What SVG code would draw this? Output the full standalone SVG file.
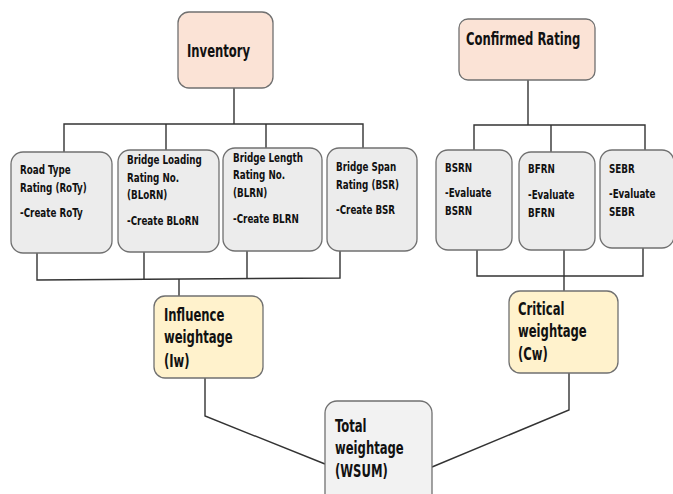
<svg xmlns="http://www.w3.org/2000/svg" width="673" height="494" viewBox="0 0 673 494">
<style>
.box{stroke:#707070;stroke-width:1.3}
.top{fill:#fbe3d6}
.mid{fill:#ececec}
.yel{fill:#fff2cc}
.tot{fill:#f2f2f2}
.t{font-family:'DejaVu Sans Condensed','DejaVu Sans',sans-serif;font-weight:bold;fill:#111}
.big{font-size:17px}
.sm{font-size:12.5px}
.c{fill:none;stroke:#333;stroke-width:1.4}
</style>
<rect width="673" height="494" fill="#fff"/>
<g id="connectors">
<polyline class="c" points="234,88 234,124"/>
<polyline class="c" points="64,152 64,124 363,124 363,148"/>
<polyline class="c" points="166,124 166,150"/>
<polyline class="c" points="266,124 266,148"/>
<polyline class="c" points="528,80 528,125"/>
<polyline class="c" points="474,153 474,125 645,125 645,150"/>
<polyline class="c" points="551,125 551,152"/>
<polyline class="c" points="37,253 37,280 340,278 340,251"/>
<polyline class="c" points="144,252 144,280"/>
<polyline class="c" points="247,251 247,279"/>
<polyline class="c" points="179,279 179,296"/>
<polyline class="c" points="477,250 477,276 643,276 643,248"/>
<polyline class="c" points="564,250 564,291"/>
<polyline class="c" points="205,378 205,416 325,464"/>
<polyline class="c" points="569,373 569,410 432,467"/>
</g>
<g id="inventory">
<rect class="box top" x="178" y="12" width="95" height="76" rx="11"/>
<text class="t big" transform="translate(187,57) scale(0.76,1)">Inventory</text>
</g>
<g id="confirmed">
<rect class="box top" x="459" y="19" width="136" height="61" rx="9"/>
<text class="t big" transform="translate(466,45) scale(0.76,1)">Confirmed Rating</text>
</g>
<g id="roty">
<rect class="box mid" x="11" y="152" width="101" height="101" rx="12"/>
<text class="t sm" transform="translate(20,174) scale(0.78,1)">Road Type</text>
<text class="t sm" transform="translate(20,192) scale(0.78,1)">Rating (RoTy)</text>
<text class="t sm" transform="translate(20,217) scale(0.78,1)">-Create RoTy</text>
</g>
<g id="blorn">
<rect class="box mid" x="118" y="150" width="101" height="102" rx="12"/>
<text class="t sm" transform="translate(127,164) scale(0.78,1)">Bridge Loading</text>
<text class="t sm" transform="translate(127,182) scale(0.78,1)">Rating No.</text>
<text class="t sm" transform="translate(127,199) scale(0.78,1)">(BLoRN)</text>
<text class="t sm" transform="translate(127,225) scale(0.78,1)">-Create BLoRN</text>
</g>
<g id="blrn">
<rect class="box mid" x="223" y="148" width="99" height="103" rx="12"/>
<text class="t sm" transform="translate(233,162) scale(0.78,1)">Bridge Length</text>
<text class="t sm" transform="translate(233,179) scale(0.78,1)">Rating No.</text>
<text class="t sm" transform="translate(233,197) scale(0.78,1)">(BLRN)</text>
<text class="t sm" transform="translate(233,223) scale(0.78,1)">-Create BLRN</text>
</g>
<g id="bsr">
<rect class="box mid" x="327" y="148" width="90" height="103" rx="12"/>
<text class="t sm" transform="translate(336,171) scale(0.78,1)">Bridge Span</text>
<text class="t sm" transform="translate(336,189) scale(0.78,1)">Rating (BSR)</text>
<text class="t sm" transform="translate(336,214) scale(0.78,1)">-Create BSR</text>
</g>
<g id="bsrn">
<rect class="box mid" x="436" y="150" width="76" height="100" rx="12"/>
<text class="t sm" transform="translate(445,172) scale(0.78,1)">BSRN</text>
<text class="t sm" transform="translate(445,197) scale(0.78,1)">-Evaluate</text>
<text class="t sm" transform="translate(445,215) scale(0.78,1)">BSRN</text>
</g>
<g id="bfrn">
<rect class="box mid" x="519" y="152" width="76" height="98" rx="12"/>
<text class="t sm" transform="translate(528,173) scale(0.78,1)">BFRN</text>
<text class="t sm" transform="translate(528,199) scale(0.78,1)">-Evaluate</text>
<text class="t sm" transform="translate(528,217) scale(0.78,1)">BFRN</text>
</g>
<g id="sebr">
<rect class="box mid" x="600" y="150" width="74" height="98" rx="12"/>
<text class="t sm" transform="translate(609,173) scale(0.78,1)">SEBR</text>
<text class="t sm" transform="translate(609,198) scale(0.78,1)">-Evaluate</text>
<text class="t sm" transform="translate(609,216) scale(0.78,1)">SEBR</text>
</g>
<g id="influence">
<rect class="box yel" x="154" y="296" width="109" height="82" rx="11"/>
<text class="t big" transform="translate(164,321) scale(0.76,1)">Influence</text>
<text class="t big" transform="translate(164,343) scale(0.76,1)">weightage</text>
<text class="t big" transform="translate(164,367) scale(0.76,1)">(Iw)</text>
</g>
<g id="critical">
<rect class="box yel" x="509" y="291" width="109" height="82" rx="11"/>
<text class="t big" transform="translate(518,315) scale(0.76,1)">Critical</text>
<text class="t big" transform="translate(518,337) scale(0.76,1)">weightage</text>
<text class="t big" transform="translate(518,360) scale(0.76,1)">(Cw)</text>
</g>
<g id="total">
<rect class="box tot" x="325" y="401" width="107" height="110" rx="12"/>
<text class="t big" transform="translate(335,432) scale(0.76,1)">Total</text>
<text class="t big" transform="translate(335,454) scale(0.76,1)">weightage</text>
<text class="t big" transform="translate(335,477) scale(0.76,1)">(WSUM)</text>
</g>
</svg>
